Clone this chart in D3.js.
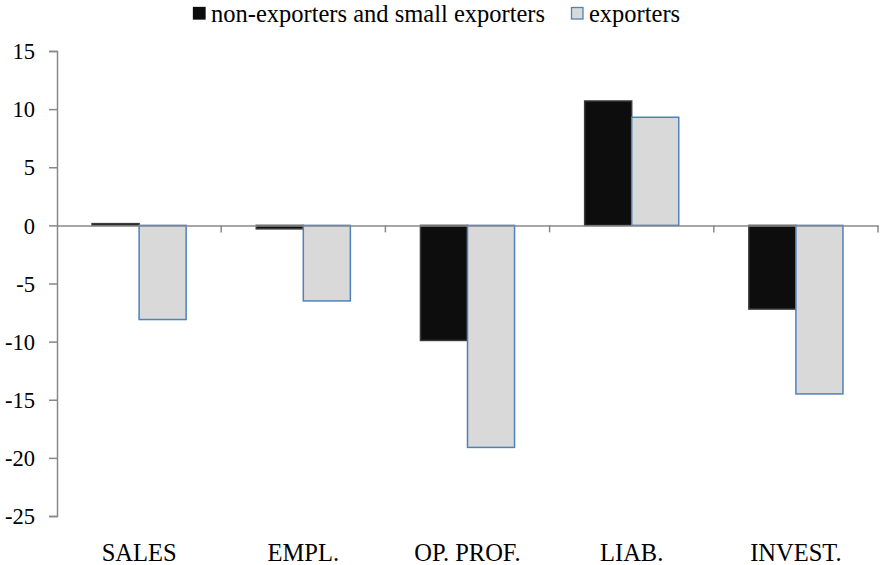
<!DOCTYPE html>
<html>
<head>
<meta charset="utf-8">
<script src="https://cdn.jsdelivr.net/npm/d3@7"></script>
<style>
  html, body { margin: 0; padding: 0; background: #fff; }
</style>
</head>
<body>
<svg id="chart" width="882" height="565"></svg>
<script>
// Categories and series values (percent change)
const categories = ["SALES", "EMPL.", "OP. PROF.", "LIAB.", "INVEST."];
const seriesNames = ["non-exporters and small exporters", "exporters"];
const nonExporters = [0.15, -0.3, -9.9, 10.7, -7.2];
const exporters = [-8.1, -6.5, -19.1, 9.3, -14.5];
const yTicks = [15, 10, 5, 0, -5, -10, -15, -20, -25];

const FONT = "'Liberation Serif', 'Times New Roman', Times, serif";

const svg = d3.select("#chart");
const plotLeft = 57, plotRight = 878, plotTop = 51, plotBottom = 516;

const x = d3.scaleBand().domain(categories).range([plotLeft, plotRight]).paddingInner(0).paddingOuter(0);
const inner = d3.scaleBand().domain(seriesNames).range([0, x.bandwidth()]).paddingInner(0).paddingOuter(0.745);
const y = d3.scaleLinear().domain([-25, 15]).range([plotBottom, plotTop]);

const axisColor = "#888888";

// Y axis (plain hyphen for negatives)
const yAxis = d3.axisLeft(y).tickValues(yTicks).tickSize(8).tickPadding(14).tickFormat(d => String(d));
const gy = svg.append("g").attr("transform", `translate(${plotLeft},0)`).call(yAxis);
gy.attr("font-family", null).attr("font-size", null);
gy.select(".domain").attr("stroke", axisColor).attr("stroke-width", 1.5);
gy.selectAll(".tick line").attr("stroke", axisColor).attr("stroke-width", 1.5);
gy.selectAll(".tick text")
  .style("font-family", FONT).style("font-size", "22.5px")
  .attr("fill", "#000").attr("dy", "0.34em");

// Bars
const series = [
  { name: seriesNames[0], values: nonExporters, fill: "#0d0d0d", stroke: "#3a3a3a" },
  { name: seriesNames[1], values: exporters, fill: "#d9d9d9", stroke: "#4f81bd" }
];
series.forEach(s => {
  svg.append("g").selectAll("rect")
    .data(categories.map((c, i) => ({ c, v: s.values[i] })))
    .join("rect")
    .attr("x", d => x(d.c) + inner(s.name))
    .attr("width", inner.bandwidth())
    .attr("y", d => y(Math.max(0, d.v)))
    .attr("height", d => Math.abs(y(d.v) - y(0)))
    .attr("fill", s.fill)
    .attr("stroke", s.stroke)
    .attr("stroke-width", 1.5);
});

// Zero axis with category separators
const xAxis = d3.axisBottom(x).tickSize(0).tickFormat("");
const gx = svg.append("g").attr("transform", `translate(0,${y(0)})`).call(xAxis);
gx.select(".domain").attr("stroke", axisColor).attr("stroke-width", 1.5);
gx.selectAll(".tick").remove();
const seps = d3.range(1, categories.length + 1).map(i => plotLeft + i * x.step());
gx.selectAll("line.sep").data(seps).join("line")
  .attr("class", "sep")
  .attr("x1", d => d).attr("x2", d => d)
  .attr("y1", 0).attr("y2", 7)
  .attr("stroke", axisColor).attr("stroke-width", 1.5);

// Category labels along the bottom
svg.append("g").selectAll("text")
  .data(categories)
  .join("text")
  .attr("x", d => x(d) + x.bandwidth() / 2)
  .attr("y", 561)
  .attr("text-anchor", "middle")
  .style("font-family", FONT)
  .style("font-size", "24.5px")
  .attr("fill", "#000")
  .text(d => d);

// Legend
const legendItems = [
  { name: seriesNames[0], fill: "#0d0d0d", stroke: "#0d0d0d", x: 193.5 },
  { name: seriesNames[1], fill: "#d9d9d9", stroke: "#4f81bd", x: 571.5 }
];
const lg = svg.append("g");
legendItems.forEach(it => {
  lg.append("rect").attr("x", it.x).attr("y", 7.5).attr("width", 11.5).attr("height", 11.5)
    .attr("fill", it.fill).attr("stroke", it.stroke).attr("stroke-width", 1.3);
  lg.append("text").attr("x", it.x + 17.5).attr("y", 22)
    .style("font-family", FONT).style("font-size", "24.5px")
    .attr("fill", "#000").text(it.name);
});
</script>
</body>
</html>
